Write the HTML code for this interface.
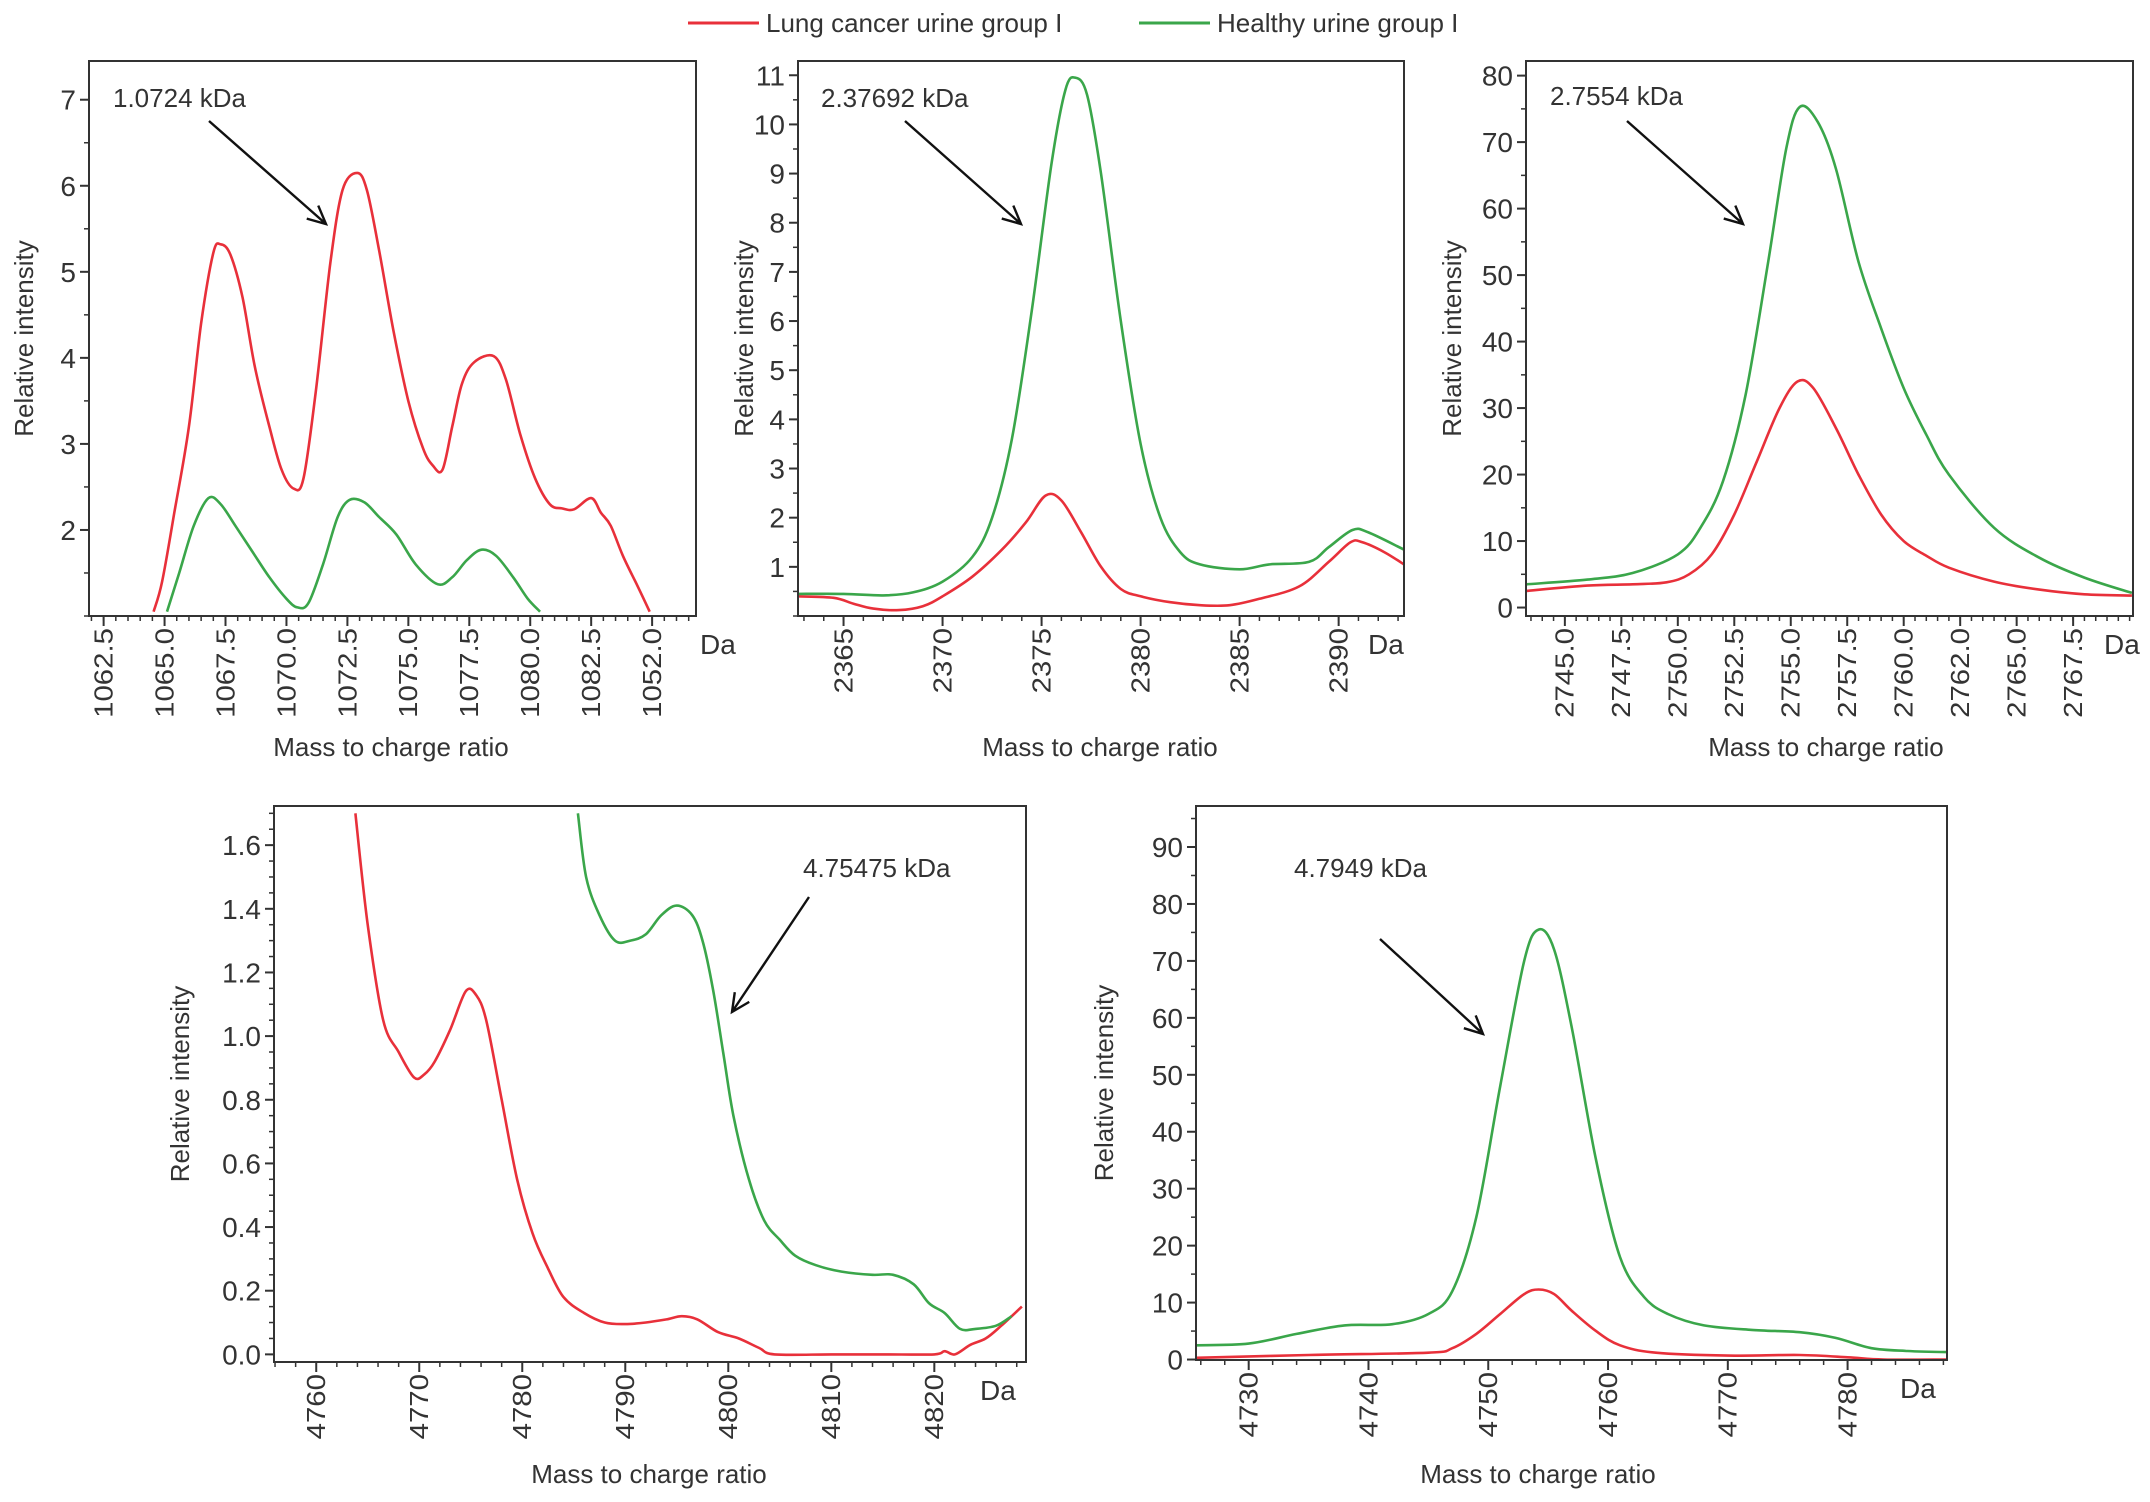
<!DOCTYPE html>
<html><head><meta charset="utf-8">
<style>
html,body{margin:0;padding:0;background:#fff;}
svg{display:block;font-family:"Liberation Sans",Arial,sans-serif;}
</style></head>
<body>
<svg id="fig" width="2150" height="1502" viewBox="0 0 2150 1502" xmlns="http://www.w3.org/2000/svg">
<g>
  <line x1="688" y1="23" x2="759" y2="23" stroke="#e8303a" stroke-width="3"/>
  <text x="766" y="32" font-size="26" fill="#333">Lung cancer urine group I</text>
  <line x1="1139" y1="23" x2="1210" y2="23" stroke="#3aa64a" stroke-width="3"/>
  <text x="1217" y="32" font-size="26" fill="#333">Healthy urine group I</text>
</g>
</svg>
<script>
// ---- Panel 1 data ----
const p1RedX=[1064.55,1064.9,1065.4,1066,1066.5,1067,1067.3,1067.7,1068.2,1068.7,1069.3,1069.8,1070.3,1070.7,1071.2,1071.8,1072.3,1072.9,1073.3,1073.8,1074.4,1075,1075.6,1076.0,1076.4,1076.8,1077.2,1077.7,1078.5,1079.0,1079.6,1080.2,1080.8,1081.3,1081.8,1082.5,1082.9,1083.3,1083.8,1084.4,1084.9];
const p1RedY=[1.05,1.4,2.2,3.2,4.4,5.22,5.32,5.2,4.7,3.9,3.2,2.7,2.48,2.6,3.6,5.1,5.95,6.15,5.95,5.25,4.3,3.5,2.95,2.75,2.7,3.2,3.7,3.95,4.02,3.75,3.1,2.6,2.3,2.25,2.24,2.37,2.2,2.05,1.7,1.35,1.05];
const p1GrnX=[1065.1,1065.6,1066.2,1066.8,1067.3,1067.9,1068.6,1069.3,1070.0,1070.45,1070.9,1071.5,1072.1,1072.6,1073.2,1073.8,1074.5,1075.3,1076.2,1076.8,1077.4,1078.0,1078.6,1079.3,1079.9,1080.4];
const p1GrnY=[1.05,1.5,2.05,2.37,2.3,2.05,1.75,1.45,1.2,1.1,1.15,1.6,2.15,2.35,2.32,2.15,1.95,1.6,1.37,1.45,1.65,1.77,1.7,1.45,1.2,1.05];
const p1YTicks=[2,3,4,5,6,7];
const p1XTickVals=[1062.5,1065,1067.5,1070,1072.5,1075,1077.5,1080,1082.5,1085];
const p1XTickLabels=["1062.5","1065.0","1067.5","1070.0","1072.5","1075.0","1077.5","1080.0","1082.5","1052.0"];
// ---- Panel 2 data ----
const p2RedX=[2362.7,2364.5,2365.5,2366.5,2367.8,2369,2370,2371.5,2373,2374.2,2375.2,2376,2377,2378,2379,2380,2381.5,2383,2384.5,2386,2388,2389.5,2390.6,2391.2,2392.3,2393.3];
const p2RedY=[0.4,0.37,0.25,0.15,0.12,0.2,0.4,0.8,1.35,1.9,2.45,2.35,1.7,1.0,0.55,0.4,0.28,0.22,0.22,0.35,0.6,1.1,1.5,1.5,1.3,1.05];
const p2GrnX=[2362.7,2365,2367,2368.5,2370,2371.5,2372.5,2373.5,2374.5,2375.5,2376.2,2376.7,2377.3,2378,2379,2380,2381,2382,2383,2385,2386.5,2388.5,2389.5,2390.7,2391.5,2393.3];
const p2GrnY=[0.45,0.45,0.42,0.48,0.7,1.2,2.0,3.6,6.2,9.2,10.7,10.95,10.6,9.0,6.0,3.5,2.0,1.3,1.05,0.95,1.05,1.1,1.4,1.75,1.7,1.35];
const p2YTicks=[1,2,3,4,5,6,7,8,9,10,11];
const p2XTickVals=[2365,2370,2375,2380,2385,2390];
const p2XTickLabels=["2365","2370","2375","2380","2385","2390"];
// ---- Panel 3 data ----
const p3GrnX=[2743.3,2746,2748,2750,2751,2752,2753,2754,2754.8,2755.4,2756.2,2757,2758,2759,2760,2761,2762,2764,2766,2768,2770.1];
const p3GrnY=[3.5,4.2,5.2,8,12,19,32,52,69,75.3,73,66,52,42,33,26,20,12,7.5,4.5,2.2];
const p3RedX=[2743.3,2746,2748,2749.5,2750.5,2751.5,2752.5,2753.5,2754.5,2755.3,2756,2757,2758,2759,2760,2761,2762,2764,2766,2768,2770.1];
const p3RedY=[2.5,3.3,3.5,3.8,5,8,14,22,30,34,33,27,20,14,10,7.8,6,3.9,2.7,2.0,1.8];
const p3YTicks=[0,10,20,30,40,50,60,70,80];
const p3XTickVals=[2745,2747.5,2750,2752.5,2755,2757.5,2760,2762.5,2765,2767.5];
const p3XTickLabels=["2745.0","2747.5","2750.0","2752.5","2755.0","2757.5","2760.0","2762.0","2765.0","2767.5"];
// ---- Panel 4 data ----
const p4RedX=[4763.8,4765,4766.5,4768,4769.5,4770.5,4771.5,4773,4774.5,4775.5,4776.5,4778,4779.5,4781,4782.5,4784,4786,4788,4790,4792,4794,4795.5,4797,4799,4801,4803,4804.5,4810,4815,4820,4821,4822,4823.5,4825,4826.5,4828.5];
const p4RedY=[1.7,1.35,1.05,0.95,0.87,0.88,0.92,1.02,1.14,1.13,1.05,0.8,0.55,0.38,0.27,0.18,0.13,0.1,0.095,0.1,0.11,0.12,0.11,0.07,0.05,0.02,0.0,0.0,0.0,0.0,0.01,0.0,0.03,0.05,0.09,0.15];
const p4GrnX=[4785.4,4786.2,4787.5,4789,4790.5,4792,4793.5,4795,4796.5,4797.5,4798.5,4799.5,4800.5,4802,4803.5,4805,4806.5,4808.5,4811,4814,4816,4818,4819.5,4821,4822.5,4824,4826,4827.5];
const p4GrnY=[1.7,1.5,1.38,1.3,1.3,1.32,1.38,1.41,1.38,1.3,1.15,0.95,0.75,0.55,0.42,0.36,0.31,0.28,0.26,0.25,0.25,0.22,0.16,0.13,0.08,0.08,0.09,0.12];
const p4YTicks=[0,0.2,0.4,0.6,0.8,1.0,1.2,1.4,1.6];
const p4YTickLabels=["0.0","0.2","0.4","0.6","0.8","1.0","1.2","1.4","1.6"];
const p4XTickVals=[4760,4770,4780,4790,4800,4810,4820];
const p4XTickLabels=["4760","4770","4780","4790","4800","4810","4820"];
// ---- Panel 5 data ----
const p5GrnX=[4725.6,4730,4734,4738,4742,4745,4747,4749,4751,4753,4754.2,4755.5,4757,4759,4761,4763,4765,4768,4772,4776,4779,4782,4785,4788.3];
const p5GrnY=[2.5,2.8,4.5,6,6.2,8,12,25,48,70,75.5,72,58,35,18,11,8,6,5.2,4.8,3.8,2,1.5,1.3];
const p5RedX=[4725.6,4735,4745,4747,4749,4751,4753,4754.2,4755.5,4757,4759,4761,4764,4770,4776,4780,4783,4788.3];
const p5RedY=[0.3,0.8,1.2,2,4.5,8,11.5,12.3,11.5,8.5,5,2.5,1.2,0.7,0.8,0.4,0,0];
const p5YTicks=[0,10,20,30,40,50,60,70,80,90];
const p5XTickVals=[4730,4740,4750,4760,4770,4780];
const p5XTickLabels=["4730","4740","4750","4760","4770","4780"];

const NS="http://www.w3.org/2000/svg";
const svg=document.getElementById('fig');
const RED="#e8303a", GRN="#3aa64a", INK="#333";
function mk(tag,attrs,parent){const e=document.createElementNS(NS,tag);for(const k in attrs)e.setAttribute(k,attrs[k]);(parent||svg).appendChild(e);return e;}
function smoothPath(pts){
  let d="M"+pts[0][0].toFixed(1)+","+pts[0][1].toFixed(1);
  for(let i=0;i<pts.length-1;i++){
    const p0=pts[i-1]||pts[i],p1=pts[i],p2=pts[i+1],p3=pts[i+2]||p2;
    const c1x=p1[0]+(p2[0]-p0[0])/6,c1y=p1[1]+(p2[1]-p0[1])/6;
    const c2x=p2[0]-(p3[0]-p1[0])/6,c2y=p2[1]-(p3[1]-p1[1])/6;
    d+=" C"+c1x.toFixed(1)+","+c1y.toFixed(1)+" "+c2x.toFixed(1)+","+c2y.toFixed(1)+" "+p2[0].toFixed(1)+","+p2[1].toFixed(1);
  }
  return d;
}
function panel(cfg){
  const g=mk('g',{});
  
  
  const {L,R,T,B,x0,x1,y0,y1}=cfg;
  const sx=v=>L+(v-x0)/(x1-x0)*(R-L);
  const sy=v=>B-(v-y0)/(y1-y0)*(B-T);
  for(let v=Math.ceil(x0/cfg.xMinor)*cfg.xMinor;v<=x1+1e-9;v+=cfg.xMinor){
    const t=mk('line',{x1:sx(v),x2:sx(v),y1:B,y2:B+5,stroke:INK,'stroke-width':1.5},g);
    
    
  }
  cfg.xt.forEach((v,i)=>{
    const t=mk('line',{x1:sx(v),x2:sx(v),y1:B,y2:B+10,stroke:INK,'stroke-width':2},g);
    
    
    const tx=mk('text',{x:0,y:0,'font-size':28,fill:INK,'text-anchor':'end','dominant-baseline':'central',transform:`translate(${sx(v)},${B+12}) rotate(-90) scale(1.05,0.92)`},g);
    
    
    tx.textContent=cfg.xl[i];
  });
  for(let v=Math.ceil(y0/cfg.yMinor)*cfg.yMinor;v<=y1+1e-9;v+=cfg.yMinor){
    const t=mk('line',{x1:L-5,x2:L,y1:sy(v),y2:sy(v),stroke:INK,'stroke-width':1.5},g);
    
    
  }
  cfg.yt.forEach((v,i)=>{
    const t=mk('line',{x1:L-9,x2:L,y1:sy(v),y2:sy(v),stroke:INK,'stroke-width':2},g);
    
    
    const tx=mk('text',{x:L-13,y:sy(v)+10,'font-size':28,fill:INK,'text-anchor':'end'},g);
    
    
    tx.textContent=cfg.yl?cfg.yl[i]:String(v);
  });
  const cid='clip-'+cfg.name;
  const cp=mk('clipPath',{id:cid},g);mk('rect',{x:L,y:T,width:R-L,height:B-T},cp);
  cfg.series.forEach(s=>{
    const pts=s.x.map((xv,i)=>[sx(xv),sy(s.y[i])]);
    const p=mk('path',{d:smoothPath(pts),fill:'none',stroke:s.c,'stroke-width':2.6,'stroke-linejoin':'round','clip-path':`url(#${cid})`},g);
    
    
  });
  const box=mk('rect',{x:L,y:T,width:R-L,height:B-T,fill:'none',stroke:INK,'stroke-width':2},g);
  
  
  const da=mk('text',{x:cfg.daX,y:B+38,'font-size':28,fill:INK},g);
  
  
  da.textContent='Da';
  const xt=mk('text',{x:cfg.xtX,y:cfg.xtY,'font-size':26,fill:INK,'text-anchor':'middle'},g);
  
  
  xt.textContent='Mass to charge ratio';
  const ytl=mk('text',{x:0,y:0,'font-size':26,fill:INK,'text-anchor':'middle','dominant-baseline':'central',transform:`translate(${cfg.ytX},${(T+B)/2}) rotate(-90)`},g);
  
  
  ytl.textContent='Relative intensity';
  const an=mk('text',{x:cfg.an[0],y:cfg.an[1],'font-size':26,fill:INK},g);
  
  
  an.textContent=cfg.an[2];
  const [ax1,ay1,ax2,ay2]=cfg.ar;
  const ang=Math.atan2(ay2-ay1,ax2-ax1),h=20;
  const ar=mk('path',{d:`M${ax1},${ay1} L${ax2},${ay2} M${ax2-h*Math.cos(ang-0.45)},${ay2-h*Math.sin(ang-0.45)} L${ax2},${ay2} L${ax2-h*Math.cos(ang+0.45)},${ay2-h*Math.sin(ang+0.45)}`,fill:'none',stroke:'#111','stroke-width':2.4},g);
  
  
}
panel({name:'panel-1072',L:89,R:696,T:61,B:616,x0:1061.9,x1:1086.8,y0:1.0,y1:7.45,xMinor:0.5,yMinor:0.5,
  xt:p1XTickVals,xl:p1XTickLabels,yt:p1YTicks,daX:700,xtX:391,xtY:756,ytX:24,an:[113,107,'1.0724 kDa'],ar:[209,121,326,224],
  series:[{x:p1RedX,y:p1RedY,c:RED,n:'lung-cancer-line'},{x:p1GrnX,y:p1GrnY,c:GRN,n:'healthy-line'}]});
panel({name:'panel-2376',L:798,R:1404,T:61,B:616,x0:2362.7,x1:2393.3,y0:0,y1:11.29,xMinor:1,yMinor:0.5,
  xt:p2XTickVals,xl:p2XTickLabels,yt:p2YTicks,daX:1368,xtX:1100,xtY:756,ytX:744,an:[821,107,'2.37692 kDa'],ar:[905,121,1021,224],
  series:[{x:p2RedX,y:p2RedY,c:RED,n:'lung-cancer-line'},{x:p2GrnX,y:p2GrnY,c:GRN,n:'healthy-line'}]});
panel({name:'panel-2755',L:1526,R:2133,T:61,B:616,x0:2743.28,x1:2770.15,y0:-1.27,y1:82.2,xMinor:0.5,yMinor:5,
  xt:p3XTickVals,xl:p3XTickLabels,yt:p3YTicks,daX:2104,xtX:1826,xtY:756,ytX:1452,an:[1550,105,'2.7554 kDa'],ar:[1627,121,1743,224],
  series:[{x:p3RedX,y:p3RedY,c:RED,n:'lung-cancer-line'},{x:p3GrnX,y:p3GrnY,c:GRN,n:'healthy-line'}]});
panel({name:'panel-4754',L:274,R:1026,T:806,B:1362,x0:4755.9,x1:4828.9,y0:-0.024,y1:1.723,xMinor:2,yMinor:0.05,
  xt:p4XTickVals,xl:p4XTickLabels,yt:p4YTicks,yl:p4YTickLabels,daX:980,xtX:649,xtY:1483,ytX:180,an:[803,877,'4.75475 kDa'],ar:[809,897,732,1012],
  series:[{x:p4RedX,y:p4RedY,c:RED,n:'lung-cancer-line'},{x:p4GrnX,y:p4GrnY,c:GRN,n:'healthy-line'}]});
panel({name:'panel-4795',L:1196,R:1947,T:806,B:1360,x0:4725.6,x1:4788.3,y0:-0.08,y1:97.2,xMinor:2,yMinor:5,
  xt:p5XTickVals,xl:p5XTickLabels,yt:p5YTicks,daX:1900,xtX:1538,xtY:1483,ytX:1104,an:[1294,877,'4.7949 kDa'],ar:[1380,939,1483,1034],
  series:[{x:p5RedX,y:p5RedY,c:RED,n:'lung-cancer-line'},{x:p5GrnX,y:p5GrnY,c:GRN,n:'healthy-line'}]});
</script>
</body></html>
